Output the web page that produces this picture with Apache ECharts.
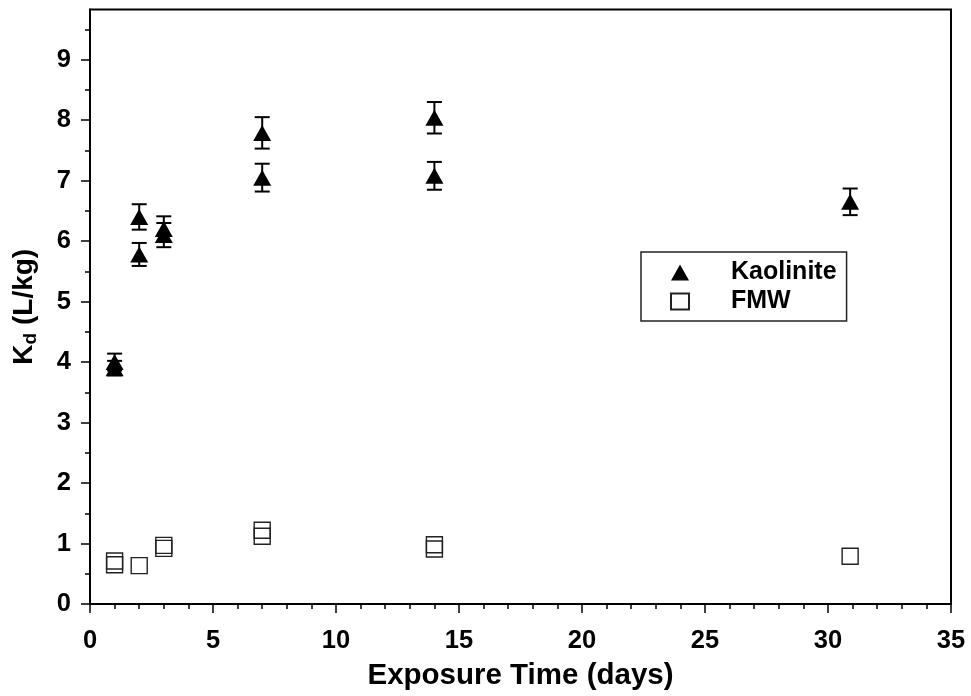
<!DOCTYPE html>
<html>
<head>
<meta charset="utf-8">
<script src="https://cdn.jsdelivr.net/npm/echarts@6/dist/echarts.min.js"></script>
<style>html,body{margin:0;padding:0;background:#fff}#c{width:971px;height:696px}</style>
</head>
<body>
<div id="c"></div>
<script>
// Data
const kaoX   = [1, 1, 2, 2, 3, 3, 7, 7, 14, 14, 30.9];
const kaoY   = [4.0, 3.9, 6.40, 5.78, 6.2, 6.1, 7.79, 7.05, 8.04, 7.08, 6.65];
const kaoErr = [0.14, 0.12, 0.21, 0.19, 0.21, 0.20, 0.26, 0.23, 0.26, 0.23, 0.22];
const fmwX   = [1, 1, 2, 3, 3, 7, 7, 14, 14, 30.9];
const fmwY   = [0.71, 0.65, 0.635, 0.97, 0.92, 1.22, 1.12, 0.98, 0.91, 0.79];
const yMajorTicks = [0, 1, 2, 3, 4, 5, 6, 7, 8, 9];
const yMinorTicks = [0.5, 1.5, 2.5, 3.5, 4.5, 5.5, 6.5, 7.5, 8.5, 9.5];
const seriesNames = ['Kaolinite', 'FMW'];

const FONT = "'Liberation Sans', Arial, sans-serif";
const kaoData = kaoX.map((x, i) => [x, kaoY[i]]);
const errData = kaoX.map((x, i) => [x, kaoY[i] - kaoErr[i], kaoY[i] + kaoErr[i]]);
const fmwData = fmwX.map((x, i) => [x, fmwY[i]]);

const chart = echarts.init(document.getElementById('c'), null, {renderer: 'canvas'});
chart.setOption({
  animation: false,
  backgroundColor: '#fff',
  grid: {left: 90, right: 20, top: 9.5, bottom: 90, show: true, borderColor: '#000', borderWidth: 2, backgroundColor: 'transparent'},
  legend: {
    data: seriesNames.map(n => ({name: n})),
    orient: 'vertical',
    left: 641, top: 252,
    padding: [8, 10, 7, 29],
    itemGap: 4,
    itemWidth: 18, itemHeight: 16,
    borderColor: '#222', borderWidth: 1.5,
    backgroundColor: '#fff',
    textStyle: {fontFamily: FONT, fontWeight: 'bold', fontSize: 25, color: '#000', padding: [0, 0, 0, 37]}
  },
  xAxis: [{
    type: 'value', min: 0, max: 35, interval: 5,
    name: 'Exposure Time (days)', nameLocation: 'middle', nameGap: 57,
    nameTextStyle: {fontFamily: FONT, fontWeight: 'bold', fontSize: 29.5, color: '#000'},
    axisLine: {show: true, onZero: false, lineStyle: {color: '#000', width: 2}},
    axisTick: {show: true, inside: false, length: 9, lineStyle: {color: '#000', width: 1.5}},
    minorTick: {show: true, splitNumber: 5, length: 5, lineStyle: {color: '#000', width: 1.5}},
    axisLabel: {fontFamily: FONT, fontWeight: 'bold', fontSize: 25.5, color: '#000', margin: 24},
    splitLine: {show: false}, minorSplitLine: {show: false}
  }],
  yAxis: [{
    type: 'value', min: 0, max: 9.83,
    name: '{a|K}{b|d}{a| (L/kg)}', nameLocation: 'middle', nameGap: 50,
    nameTextStyle: {
      fontFamily: FONT, fontWeight: 'bold', fontSize: 28, color: '#000',
      rich: {
        a: {fontFamily: FONT, fontWeight: 'bold', fontSize: 28, color: '#000'},
        b: {fontFamily: FONT, fontWeight: 'bold', fontSize: 19, color: '#000', padding: [12, 0, 0, 0]}
      }
    },
    axisLine: {show: true, onZero: false, lineStyle: {color: '#000', width: 2}},
    axisTick: {show: true, inside: false, length: 9, customValues: yMajorTicks, lineStyle: {color: '#000', width: 1.5}},
    axisLabel: {fontFamily: FONT, fontWeight: 'bold', fontSize: 25.5, color: '#000', margin: 19, customValues: yMajorTicks},
    splitLine: {show: false}
  }, {
    type: 'value', min: 0, max: 9.83, position: 'left',
    axisLine: {show: false},
    axisTick: {show: true, inside: false, length: 5, customValues: yMinorTicks, lineStyle: {color: '#000', width: 1.5}},
    axisLabel: {show: false},
    splitLine: {show: false}
  }],
  series: [{
    type: 'custom',
    name: 'errbar',
    xAxisIndex: 0, yAxisIndex: 0,
    data: errData,
    z: 2,
    renderItem: function (params, api) {
      const x = api.value(0);
      const lo = api.coord([x, api.value(1)]);
      const hi = api.coord([x, api.value(2)]);
      const hw = 7.5;
      const st = {stroke: '#000', lineWidth: 2};
      return {
        type: 'group',
        children: [
          {type: 'line', shape: {x1: lo[0], y1: lo[1], x2: hi[0], y2: hi[1]}, style: st},
          {type: 'line', shape: {x1: lo[0] - hw, y1: lo[1], x2: lo[0] + hw, y2: lo[1]}, style: st},
          {type: 'line', shape: {x1: hi[0] - hw, y1: hi[1], x2: hi[0] + hw, y2: hi[1]}, style: st}
        ]
      };
    }
  }, {
    type: 'scatter', name: seriesNames[0],
    xAxisIndex: 0, yAxisIndex: 0,
    data: kaoData,
    symbol: 'triangle', symbolSize: [18, 16],
    itemStyle: {color: '#000', opacity: 1},
    z: 3
  }, {
    type: 'scatter', name: seriesNames[1],
    xAxisIndex: 0, yAxisIndex: 0,
    data: fmwData,
    symbol: 'rect', symbolSize: [16, 16],
    itemStyle: {color: 'rgba(0,0,0,0)', borderColor: '#222', borderWidth: 1.4, opacity: 1},
    z: 3
  }]
});
</script>
</body>
</html>
